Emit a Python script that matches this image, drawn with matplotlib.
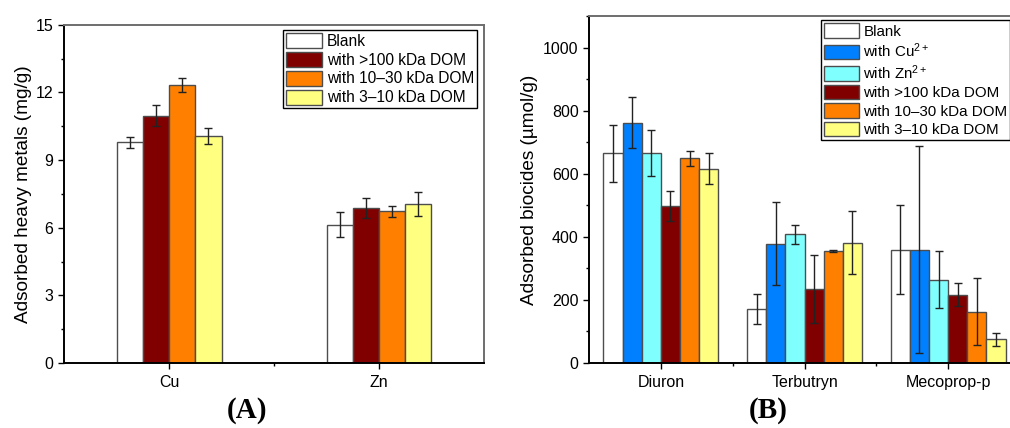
import numpy as np
import matplotlib
matplotlib.use("Agg")
import matplotlib.pyplot as plt
from matplotlib.ticker import MultipleLocator, FixedLocator

plt.rcParams["font.family"] = ["Liberation Sans", "DejaVu Sans"]
plt.rcParams["mathtext.default"] = "regular"

# ── Data: panel A (heavy metals, mg/g) ───────────────────────────────────────
metals = ["Cu", "Zn"]
a_labels = ["Blank", "with >100 kDa DOM", "with 10–30 kDa DOM", "with 3–10 kDa DOM"]
a_blank = [9.79, 6.14]
a_blank_err = [0.25, 0.55]
a_dom100 = [10.97, 6.86]
a_dom100_err = [0.48, 0.44]
a_dom1030 = [12.32, 6.73]
a_dom1030_err = [0.30, 0.25]
a_dom310 = [10.07, 7.06]
a_dom310_err = [0.36, 0.54]

# ── Data: panel B (biocides, µmol/g) ─────────────────────────────────────────
biocides = ["Diuron", "Terbutryn", "Mecoprop-p"]
b_labels = ["Blank", "with Cu$^{2+}$", "with Zn$^{2+}$",
            "with >100 kDa DOM", "with 10–30 kDa DOM", "with 3–10 kDa DOM"]
b_blank = [664, 171, 359]
b_blank_err = [91, 47, 141]
b_cu = [762, 378, 359]
b_cu_err = [80, 132, 329]
b_zn = [666, 408, 264]
b_zn_err = [73, 30, 90]
b_dom100 = [498, 235, 216]
b_dom100_err = [48, 108, 37]
b_dom1030 = [649, 354, 163]
b_dom1030_err = [24, 3, 105]
b_dom310 = [616, 381, 75]
b_dom310_err = [48, 100, 21]

C_WHITE, C_BLUE, C_CYAN = "#FFFFFF", "#0080FF", "#80FFFF"
C_DRED, C_ORANGE, C_YELLOW = "#800000", "#FF8000", "#FFFF80"

TICK_FS = 11.5
LABEL_FS = 13.7


def style_axes(ax):
    for s in ("left", "bottom"):
        ax.spines[s].set_color("black")
        ax.spines[s].set_linewidth(1.4)
    for s in ("top", "right"):
        ax.spines[s].set_color("#6e6e6e")
        ax.spines[s].set_linewidth(1.4)
    ax.tick_params(axis="both", which="major", direction="out", length=4,
                   width=1, labelsize=TICK_FS, colors="black")
    ax.tick_params(axis="both", which="minor", direction="out", length=2.5, width=1)
    ax.tick_params(axis="x", which="major", pad=5)


def grouped_bars(ax, n_cat, series, errs, colors, width):
    x = np.arange(1, n_cat + 1)
    n = len(series)
    handles = []
    for i, (vals, err, col) in enumerate(zip(series, errs, colors)):
        pos = x + (i - (n - 1) / 2) * width
        b = ax.bar(pos, vals, width=width, color=col, edgecolor="#4d4d4d",
                   linewidth=1.0, zorder=2)
        ax.errorbar(pos, vals, yerr=err, fmt="none", ecolor="#222222",
                    elinewidth=1.0, capsize=3.2, capthick=1.0, zorder=3)
        handles.append(b)
    return handles


def add_legend(ax, handles, labels, x0, y0, fs):
    leg = ax.legend(handles, labels, loc="upper left", bbox_to_anchor=(x0, y0),
                    fontsize=fs, frameon=True, fancybox=False, edgecolor="black",
                    framealpha=1, handlelength=2.3, handleheight=1.1,
                    handletextpad=0.3, labelspacing=0.2, borderpad=0.2,
                    borderaxespad=0)
    leg.get_frame().set_linewidth(1.0)
    return leg


fig = plt.figure(figsize=(10.10, 4.28), dpi=100)

# ── Panel A ──────────────────────────────────────────────────────────────────
axA = fig.add_axes([0.0634, 0.152, 0.4158, 0.790])
hA = grouped_bars(axA, len(metals),
                  [a_blank, a_dom100, a_dom1030, a_dom310],
                  [a_blank_err, a_dom100_err, a_dom1030_err, a_dom310_err],
                  [C_WHITE, C_DRED, C_ORANGE, C_YELLOW], 0.125)
axA.set_xlim(0.5, len(metals) + 0.5)
axA.set_ylim(0, 15)
axA.yaxis.set_major_locator(MultipleLocator(3))
axA.yaxis.set_minor_locator(MultipleLocator(1.5))
axA.set_xticks(np.arange(1, len(metals) + 1))
axA.set_xticklabels(metals)
axA.xaxis.set_minor_locator(FixedLocator([1.5]))
axA.set_ylabel("Adsorbed heavy metals (mg/g)", fontsize=LABEL_FS, labelpad=2.5)
style_axes(axA)
add_legend(axA, hA, a_labels, 0.522, 0.985, 11.2)

# ── Panel B ──────────────────────────────────────────────────────────────────
axB = fig.add_axes([0.5832, 0.152, 0.4267, 0.8107])
hB = grouped_bars(axB, len(biocides),
                  [b_blank, b_cu, b_zn, b_dom100, b_dom1030, b_dom310],
                  [b_blank_err, b_cu_err, b_zn_err, b_dom100_err, b_dom1030_err, b_dom310_err],
                  [C_WHITE, C_BLUE, C_CYAN, C_DRED, C_ORANGE, C_YELLOW], 0.8 / 6)
axB.set_xlim(0.5, len(biocides) + 0.5)
axB.set_ylim(0, 1100)
axB.yaxis.set_major_locator(FixedLocator([0, 200, 400, 600, 800, 1000]))
axB.yaxis.set_minor_locator(MultipleLocator(100))
axB.set_xticks(np.arange(1, len(biocides) + 1))
axB.set_xticklabels(biocides)
axB.xaxis.set_minor_locator(FixedLocator([1.5, 2.5]))
axB.set_ylabel("Adsorbed biocides (µmol/g)", fontsize=LABEL_FS, labelpad=4)
style_axes(axB)
add_legend(axB, hB, b_labels, 0.538, 0.988, 10.9)

# ── Panel letters ────────────────────────────────────────────────────────────
fig.text(247 / 1010, 1 - 411 / 428, "(A)", family=["Liberation Serif", "DejaVu Serif"],
         fontweight="bold", fontsize=21, ha="center", va="center")
fig.text(768 / 1010, 1 - 411 / 428, "(B)", family=["Liberation Serif", "DejaVu Serif"],
         fontweight="bold", fontsize=21, ha="center", va="center")

fig.savefig("out.png", dpi=100)
